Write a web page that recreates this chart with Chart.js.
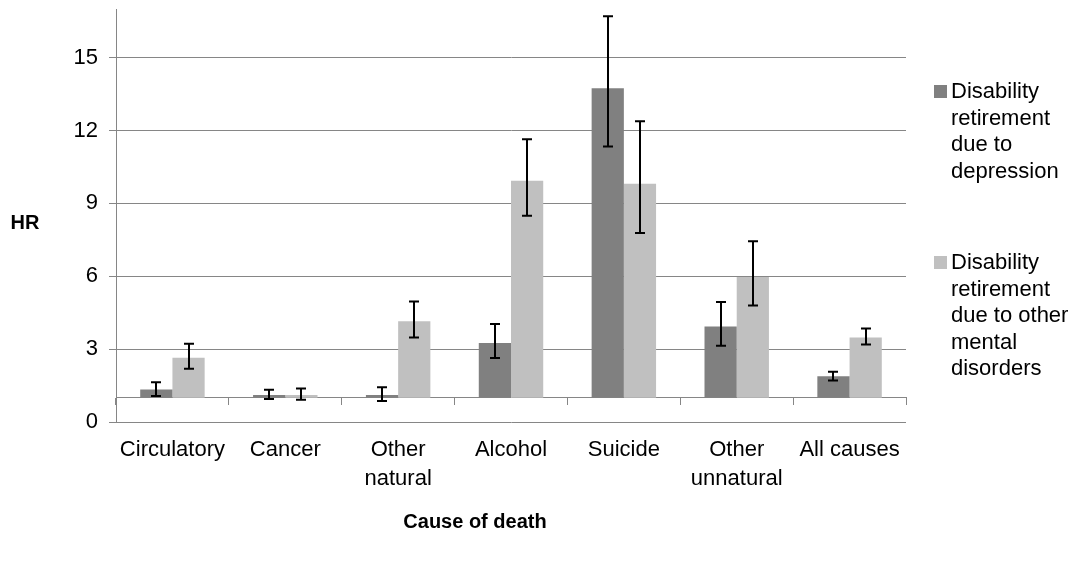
<!DOCTYPE html>
<html>
<head>
<meta charset="utf-8">
<script src="https://cdn.jsdelivr.net/npm/chart.js@4.4.1/dist/chart.umd.min.js"></script>
<style>
  html, body { margin: 0; padding: 0; background: #fff; }
  #wrap { position: relative; width: 1078px; height: 562px; font-family: 'Liberation Sans', Arial, sans-serif; color: #000; }
  #c { position: absolute; left: 0; top: 0; }
  .ttl { position: absolute; font-weight: bold; font-size: 20px; white-space: nowrap; transform: translate(-50%, -50%); }
  .leg { position: absolute; left: 934px; font-size: 22px; line-height: 26.5px; }
  .leg .sw { position: absolute; left: 0; top: 7px; width: 13px; height: 13px; }
  .leg .tx { position: absolute; left: 17px; top: 0; white-space: nowrap; }
</style>
</head>
<body>
<div id="wrap">
  <canvas id="c" width="1078" height="562"></canvas>
  <div class="ttl" style="left:25px; top:222px;">HR</div>
  <div class="ttl" style="left:475px; top:521px;">Cause of death</div>
  <div class="leg" id="leg0" style="top:78px;"><div class="sw"></div><div class="tx"></div></div>
  <div class="leg" id="leg1" style="top:249px;"><div class="sw"></div><div class="tx"></div></div>
</div>
<script>
// ---- data ----
const categories = [['Circulatory'], ['Cancer'], ['Other', 'natural'], ['Alcohol'], ['Suicide'], ['Other', 'unnatural'], ['All causes']];
const seriesNames = [
  ['Disability', 'retirement', 'due to', 'depression'],
  ['Disability', 'retirement', 'due to other', 'mental', 'disorders']
];
const depression   = [1.34, 1.11, 1.11, 3.25, 13.74, 3.93, 1.88];
const depressionLo = [1.07, 0.95, 0.86, 2.63, 11.34, 3.14, 1.71];
const depressionHi = [1.64, 1.33, 1.43, 4.03, 16.70, 4.94, 2.07];
const otherMental   = [2.64, 1.11, 4.15, 9.93, 9.81, 5.97, 3.48];
const otherMentalLo = [2.19, 0.92, 3.48, 8.49, 7.78, 4.80, 3.19];
const otherMentalHi = [3.22, 1.38, 4.96, 11.64, 12.38, 7.44, 3.85];
const baseline = 1;
const yTicks = [0, 3, 6, 9, 12, 15];
const yMax = 17;
const colors = ['#808080', '#c0c0c0'];

const errLo = [depressionLo, otherMentalLo];
const errHi = [depressionHi, otherMentalHi];

const errorBars = {
  id: 'errorBars',
  afterDatasetsDraw(chart) {
    const ctx = chart.ctx;
    const ys = chart.scales.y;
    ctx.save();
    ctx.strokeStyle = '#000';
    ctx.lineWidth = 2;
    chart.data.datasets.forEach((ds, di) => {
      const meta = chart.getDatasetMeta(di);
      meta.data.forEach((el, i) => {
        const x = Math.round(el.x);
        const yl = ys.getPixelForValue(errLo[di][i]);
        const yh = ys.getPixelForValue(errHi[di][i]);
        const cap = 5;
        ctx.beginPath();
        ctx.moveTo(x, yl); ctx.lineTo(x, yh);
        ctx.moveTo(x - cap, yl); ctx.lineTo(x + cap, yl);
        ctx.moveTo(x - cap, yh); ctx.lineTo(x + cap, yh);
        ctx.stroke();
      });
    });
    ctx.restore();
  }
};

const gridColor = '#868686';
const font = { family: "'Liberation Sans', Arial, sans-serif", size: 22 };

new Chart(document.getElementById('c'), {
  type: 'bar',
  data: {
    labels: categories,
    datasets: [
      { label: seriesNames[0].join(' '), data: depression.map(v => [baseline, v]), backgroundColor: colors[0], borderWidth: 0, categoryPercentage: 0.571, barPercentage: 1 },
      { label: seriesNames[1].join(' '), data: otherMental.map(v => [baseline, v]), backgroundColor: colors[1], borderWidth: 0, categoryPercentage: 0.571, barPercentage: 1 }
    ]
  },
  options: {
    responsive: false,
    animation: false,
    layout: { padding: { left: 0, right: 172, top: 9, bottom: 140 } },
    plugins: { legend: { display: false }, tooltip: { enabled: false } },
    scales: {
      y: {
        min: 0, max: yMax,
        afterBuildTicks: s => { s.ticks = yTicks.map(v => ({ value: v })); },
        afterFit: s => { s.width = 116; s.paddingTop = 0; s.paddingBottom = 0; },
        border: { color: gridColor, width: 1 },
        grid: { color: gridColor, lineWidth: 1, tickLength: 7, tickColor: gridColor },
        ticks: { font: font, color: '#000', padding: 11 }
      },
      x: {
        position: { y: baseline },
        border: { color: gridColor, width: 1 },
        grid: { drawOnChartArea: false, tickLength: 7, color: gridColor, offset: true },
        ticks: { font: Object.assign({ lineHeight: 1.3 }, font), color: '#000', padding: 31, maxRotation: 0, autoSkip: false }
      }
    }
  },
  plugins: [errorBars]
});

// HTML legend built from series names/colors
seriesNames.forEach((lines, i) => {
  const el = document.getElementById('leg' + i);
  el.querySelector('.sw').style.background = colors[i];
  el.querySelector('.tx').innerHTML = lines.join('<br>');
});
</script>
</body>
</html>
